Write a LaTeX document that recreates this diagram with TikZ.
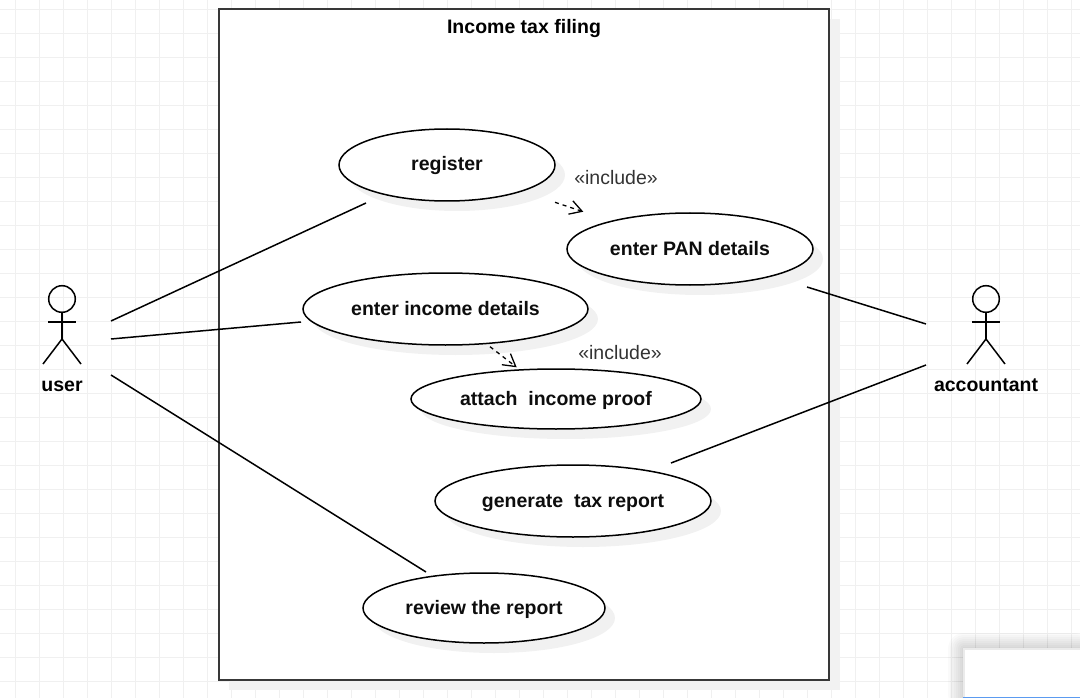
\documentclass[tikz,border=0pt]{standalone}
\usepackage{fontspec}
\setmainfont{Liberation Sans}
\usetikzlibrary{shapes.geometric,shadows,arrows.meta}
\tikzset{
  x=1pt,y=-1pt,
  softshadow/.style={drop shadow={shadow xshift=10pt,shadow yshift=-10pt,opacity=.055,fill=black}},
  usecase/.style={draw=black,fill=white,ellipse,line width=1.5pt,inner sep=0pt,outer sep=0pt,softshadow,font=\fontsize{19.5}{24}\selectfont\bfseries,text=black!95,text height=12pt,text depth=0pt},
  frameline/.style={draw=black!78,fill=white,line width=1.7pt},
  assoc/.style={draw=black,line width=1.5pt},
  inc/.style={draw=black,line width=1.3pt,dash pattern=on 4pt off 4pt,-{Straight Barb[length=12pt,width=14pt,line width=1.3pt]}},
  stereo/.style={font=\fontsize{19.5}{24}\selectfont,text=black!80,inner sep=0pt},
  actorname/.style={font=\fontsize{19.5}{24}\selectfont\bfseries,text=black,inner sep=0pt,text height=14pt,text depth=0pt},
  titletext/.style={font=\fontsize{19.5}{24}\selectfont\bfseries,text=black,inner sep=0pt,text height=14pt,text depth=0pt},
  stick/.style={draw=black,line width=1.5pt},
  actor/.pic={
    \draw[stick] (0,-26) circle (13.3);
    \draw[stick] (0,-12.7) -- (0,14);
    \draw[stick] (-14,-3) -- (14,-3);
    \draw[stick] (-19,39) -- (0,14) -- (19,39);
  }
}
\begin{document}
\begin{tikzpicture}
\useasboundingbox (0,0) rectangle (1080,698);
\fill[white] (0,0) rectangle (1080,698);
% page grid
\foreach \k in {0,...,44} {\draw[black!6,line width=1pt] ({15.5+24*\k},0) -- ({15.5+24*\k},698);}
\foreach \k in {0,...,28} {\draw[black!6,line width=1pt] (0,{9.5+24*\k}) -- (1080,{9.5+24*\k});}
% system frame
\fill[black!5] (229,19) rectangle (840,690);
\node[frameline,rectangle,inner sep=0pt,outer sep=0pt,minimum width=610pt,minimum height=670.4pt] (frame) at (524.2,344.5) {};
\node[titletext] (title) at (524,27) {Income tax filing};
% use cases
\node[usecase,minimum width=216pt,minimum height=72pt] (register) at (447,165) {register};
\node[usecase,minimum width=246pt,minimum height=72pt] (pan) at (690,249) {enter PAN details};
\node[usecase,minimum width=285pt,minimum height=72pt] (income) at (445.5,309) {enter income details};
\node[usecase,minimum width=290pt,minimum height=60pt] (proof) at (556,399) {attach\ \ income proof};
\node[usecase,minimum width=276pt,minimum height=72pt] (tax) at (573,501) {generate\ \ tax report};
\node[usecase,minimum width=242pt,minimum height=70pt] (review) at (484,608) {review the report};
% include labels
\node[stereo] (inc1) at (616,178) {«include»};
\node[stereo] (inc2) at (620,353) {«include»};
% actors
\pic at (62,325) {actor};
\pic at (986,325) {actor};
\coordinate (user) at (62,325);
\coordinate (accountant) at (986,325);
\node[actorname] (userlabel) at (62,384) {user};
\node[actorname] (accountantlabel) at (986,384) {accountant};
% associations
\draw[assoc] ([shift={(49,-4)}]user) -- ([shift={(-81,38)}]register.center);
\draw[assoc] ([shift={(49,14)}]user) -- ([shift={(-144.5,13)}]income.center);
\draw[assoc] ([shift={(49,50)}]user) -- ([shift={(-58,-36)}]review.center);
\draw[assoc] ([shift={(117,38)}]pan.center) -- ([shift={(-60,-1)}]accountant);
\draw[assoc] ([shift={(98,-38)}]tax.center) -- ([shift={(-60,40)}]accountant);
% includes
\draw[inc] ([shift={(108,37.3)}]register.center) -- ([shift={(-106.7,-37.3)}]pan.center);
\draw[inc] ([shift={(44.5,37.7)}]income.center) -- ([shift={(-39.3,-31.7)}]proof.center);
% corner panel
\foreach \s in {16,14,...,2} {\fill[black,opacity=.018,rounded corners=\s pt] ({964-\s},{649-\s}) rectangle (1090,710);}
\fill[white] (964,649) rectangle (1080,698);
\draw[black!8,line width=2pt] (964,698) -- (964,649) -- (1080,649);
\draw[color={rgb,255:red,91;green,155;blue,240},line width=1.5pt] (963,697.3) -- (1080,697.3);
\end{tikzpicture}
\end{document}
